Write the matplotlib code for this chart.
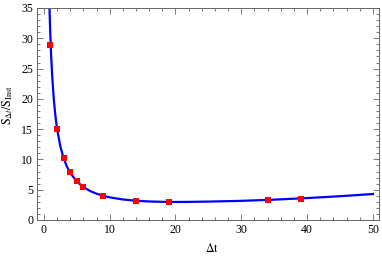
import matplotlib
matplotlib.use("Agg")
import matplotlib.pyplot as plt
from matplotlib.ticker import MultipleLocator

plt.rcParams['font.family'] = ['Liberation Serif', 'DejaVu Serif']
plt.rcParams['mathtext.fontset'] = 'stix'

# measured data points
dt_points = [1, 2, 3, 4, 5, 6, 9, 14, 19, 34, 39]
ratio_points = [28.9, 15.1, 10.3, 7.85, 6.4, 5.45, 3.98, 3.08, 2.95, 3.25, 3.52]

# fitted curve
dt_curve = [0.85, 0.9, 0.95, 1.0, 1.1, 1.25, 1.5, 1.75, 2.0, 2.5, 3.0, 3.5, 4.0,
            5.0, 6.0, 7.0, 8.0, 9.0, 10.0, 12.0, 14.0, 16.0, 18.0, 20.0, 22.0,
            25.0, 30.0, 35.0, 40.0, 45.0, 50.0]
ratio_curve = [35.0, 33.3, 31.5, 29.96, 27.25, 24.0, 20.04, 17.2, 15.1, 12.15,
               10.2, 8.81, 7.78, 6.36, 5.44, 4.80, 4.34, 4.0, 3.74, 3.39, 3.18,
               3.06, 3.0, 2.98, 2.99, 3.04, 3.16, 3.36, 3.62, 3.93, 4.29]

fig = plt.figure(figsize=(3.82, 2.60), dpi=100)
ax = fig.add_axes([37.3/382, 1-220/260, (379.5-37.3)/382, (220-8)/260])

ax.plot(dt_curve, ratio_curve, color='#0000ff', lw=1.6, zorder=2)
ax.plot(dt_points, ratio_points, 's', color='#ff0000', ms=4.3, mew=0, zorder=3)

ax.set_xlim(-1, 51)
ax.set_ylim(0, 35)
ax.xaxis.set_major_locator(MultipleLocator(10))
ax.xaxis.set_minor_locator(MultipleLocator(2))
ax.yaxis.set_major_locator(MultipleLocator(5))
ax.yaxis.set_minor_locator(MultipleLocator(1))

fc = '#666666'
for s in ax.spines.values():
    s.set_color(fc)
    s.set_linewidth(0.7)
ax.tick_params(which='both', direction='in', top=True, right=True, color=fc,
               width=0.6, labelsize=8.5, labelcolor='black')
ax.tick_params(which='major', length=4, pad=3)
ax.tick_params(which='minor', length=2.2)

ax.set_xlabel(r'$\Delta\mathrm{t}$', fontsize=8.5)
ax.xaxis.set_label_coords(0.51, -0.105)
ax.set_ylabel(r'$\mathrm{S}_{\Delta t}/\mathrm{S}_{\mathrm{Inst}}$', fontsize=8.5)
ax.yaxis.set_label_coords(-0.066, 0.54)

fig.savefig('out.png', dpi=100)
